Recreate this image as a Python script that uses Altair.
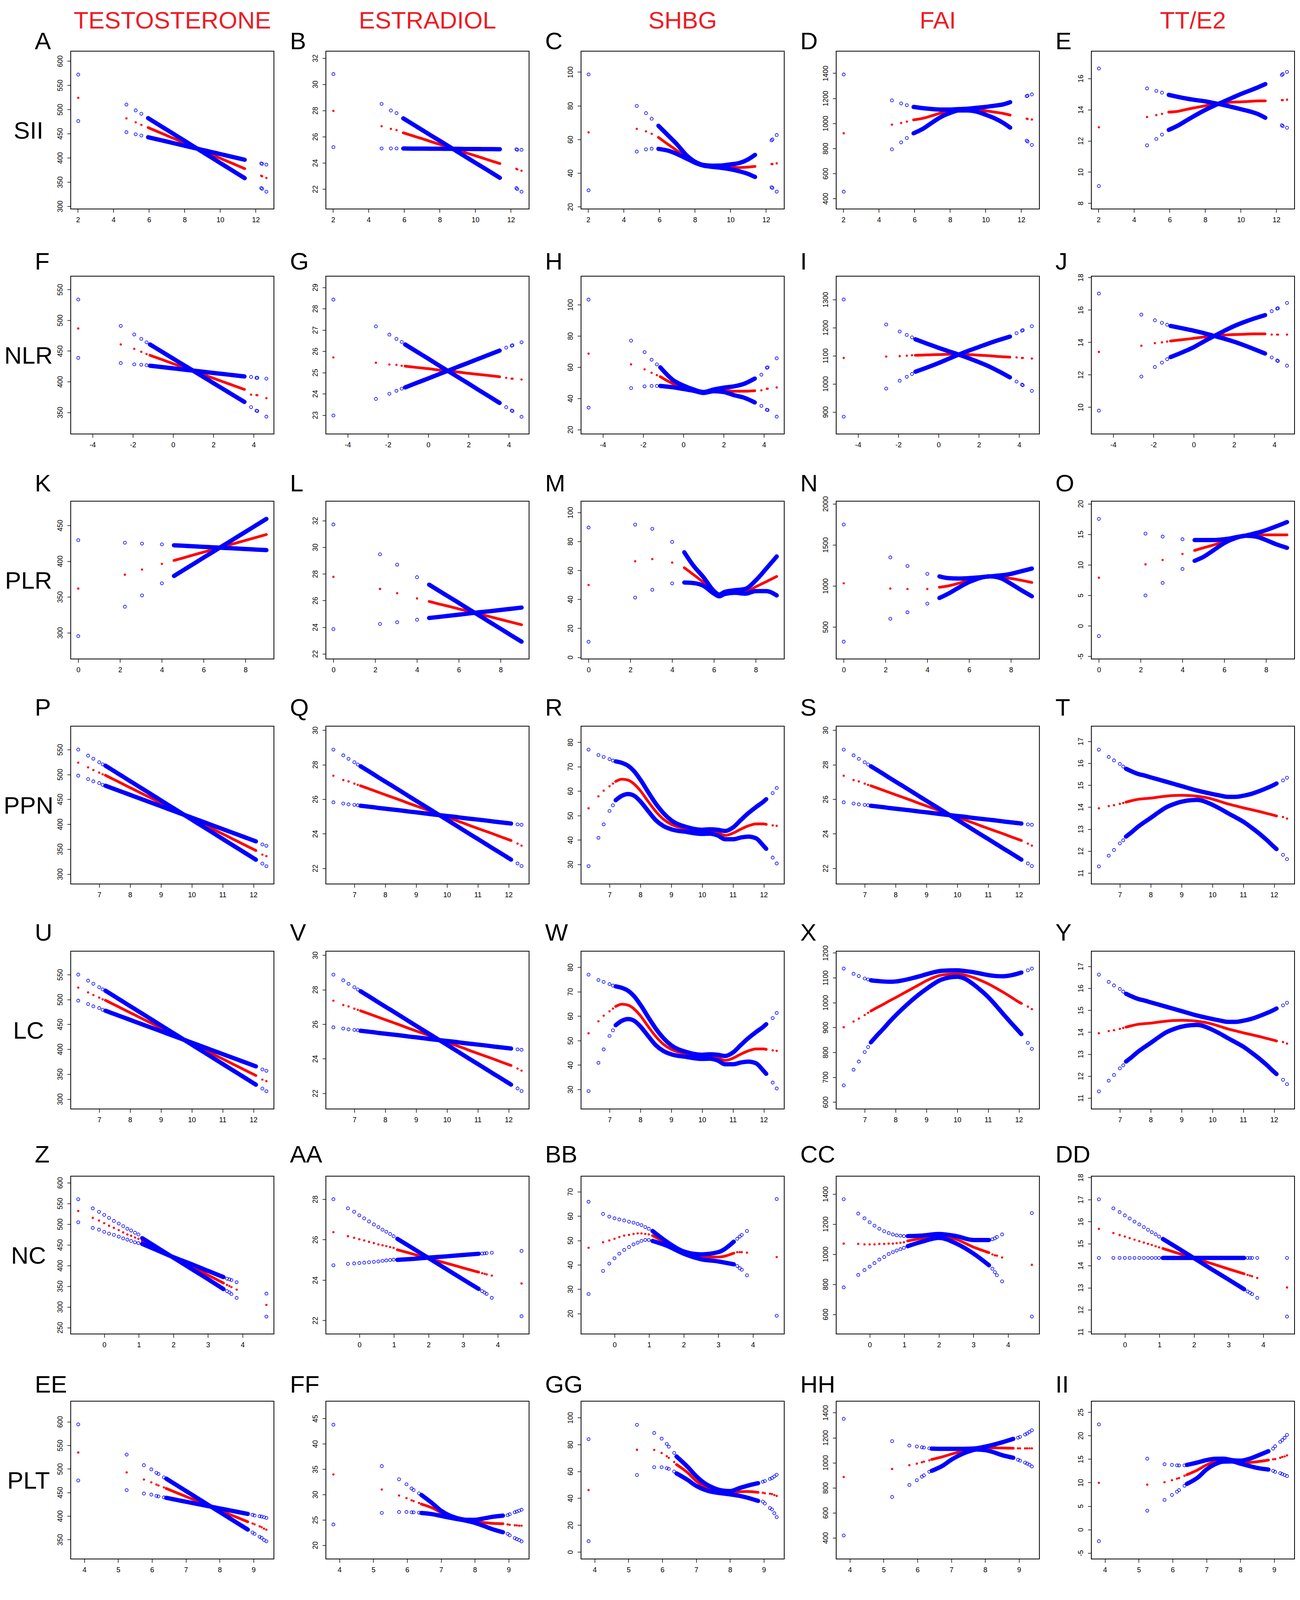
import altair as alt
import pandas as pd

FONT = "Liberation Sans"
BLUE = "#0000FF"
RED = "#FF0000"
TITLE_RED = "#EE1C25"

COLUMN_TITLES = ["TESTOSTERONE", "ESTRADIOL", "SHBG", "FAI", "TT/E2"]
ROW_LABELS = ["SII", "NLR", "PLR", "PPN", "LC", "NC", "PLT"]
PANEL_LETTERS = [
    ["A", "B", "C", "D", "E"],
    ["F", "G", "H", "I", "J"],
    ["K", "L", "M", "N", "O"],
    ["P", "Q", "R", "S", "T"],
    ["U", "V", "W", "X", "Y"],
    ["Z", "AA", "BB", "CC", "DD"],
    ["EE", "FF", "GG", "HH", "II"],
]

# ---------------- x positions per row (sparse-left, dense, sparse-right) -------------
SII_XL = [2.02, 4.73, 5.25, 5.57]
SII_XD = [5.95, 6.5, 7.0, 7.5, 8.0, 8.5, 9.0, 9.5, 10.0, 10.5, 11.0, 11.38]
SII_XR = [12.31, 12.36, 12.60]

NLR_XL = [-4.71, -2.60, -1.93, -1.58, -1.32]
NLR_XD = [-1.15, -0.5, 0.0, 0.5, 1.0, 1.5, 2.0, 2.5, 3.0, 3.54]
NLR_XR = [3.87, 4.14, 4.18, 4.63]

PLR_XL = [0.0, 2.23, 3.05, 4.0]
PLR_XD = [4.58, 5.0, 5.5, 6.0, 6.25, 6.5, 7.0, 7.5, 8.0, 8.5, 9.0]
PLR_XR = []

PPN_XL = [6.32, 6.64, 6.81, 7.0, 7.11]
PPN_XD = [7.2, 7.4, 7.6, 7.8, 8.0, 8.25, 8.5, 8.75, 9.0, 9.5, 10.0, 10.25, 10.5,
          10.75, 11.0, 11.25, 11.5, 11.75, 12.0, 12.08]
PPN_XR = [12.29, 12.42]

LC_XL = [6.32, 6.64, 6.81, 7.0, 7.11]
LC_XD = [7.2, 7.4, 7.6, 7.8, 8.0, 8.25, 8.5, 8.75, 9.0, 9.5, 10.0, 10.25, 10.5,
         10.75, 11.0, 11.25, 11.5, 11.75, 12.0, 12.08]
LC_XR = [12.29, 12.42]

NC_XL = [-0.75, -0.33, -0.15, 0.0, 0.14, 0.28, 0.42, 0.55, 0.67, 0.78, 0.89, 0.99]
NC_XD = [1.1, 1.5, 2.0, 2.5, 3.0, 3.45]
NC_XR = [3.55, 3.62, 3.68, 3.83, 4.69]

PLT_XL = [3.82, 5.25, 5.76, 5.98, 6.13, 6.19, 6.35]
PLT_XD = [6.42, 6.75, 7.0, 7.25, 7.5, 7.75, 8.0, 8.25, 8.5, 8.83]
PLT_XR = [8.97, 9.03, 9.18, 9.24, 9.31, 9.38]

ROW_X = [
    (SII_XL, SII_XD, SII_XR),
    (NLR_XL, NLR_XD, NLR_XR),
    (PLR_XL, PLR_XD, PLR_XR),
    (PPN_XL, PPN_XD, PPN_XR),
    (LC_XL, LC_XD, LC_XR),
    (NC_XL, NC_XD, NC_XR),
    (PLT_XL, PLT_XD, PLT_XR),
]

ROW_XTICKS = [
    [2, 4, 6, 8, 10, 12],
    [-4, -2, 0, 2, 4],
    [0, 2, 4, 6, 8],
    [7, 8, 9, 10, 11, 12],
    [7, 8, 9, 10, 11, 12],
    [0, 1, 2, 3, 4],
    [4, 5, 6, 7, 8, 9],
]

# ---------------- series: curve 1 (u), estimate (m), curve 2 (l) -------------
# Row SII
A_U = [572, 510, 498, 491, 482, 469.4, 458, 446.6, 435.2, 423.8, 412.4, 401, 389.5, 378.1, 366.7, 358, 388.5, 387.6, 386]
A_M = [524, 481.5, 473.5, 468, 462.5, 453.9, 446.1, 438.3, 430.5, 422.7, 414.9, 407.1, 399.2, 391.4, 383.6, 377.7, 363, 362, 358.4]
A_L = [476, 453, 448.6, 446, 442.6, 437.9, 433.6, 429.3, 425, 420.7, 416.4, 412.1, 407.9, 403.6, 399.3, 396, 337.5, 336, 330]

B_U = [30.78, 28.5, 28.0, 27.8, 27.4, 26.94, 26.52, 26.1, 25.69, 25.27, 24.85, 24.43, 24.01, 23.6, 23.18, 22.86, 25.04, 25.0, 25.0]
B_M = [27.97, 26.8, 26.6, 26.5, 26.3, 26.06, 25.85, 25.63, 25.41, 25.2, 24.98, 24.76, 24.55, 24.33, 24.11, 23.95, 23.55, 23.5, 23.4]
B_L = [25.2, 25.1, 25.1, 25.1, 25.1, 25.09, 25.09, 25.08, 25.08, 25.07, 25.07, 25.06, 25.06, 25.05, 25.05, 25.04, 22.07, 22.0, 21.8]

C_U = [98.6, 79.9, 75.6, 72.3, 68.1, 62.3, 57.0, 50.9, 46.8, 44.8, 44.4, 44.5, 45.2, 46.0, 48.2, 50.8, 59.4, 60.0, 62.6]
C_M = [64.2, 66.3, 64.8, 63.3, 61.2, 57.0, 53.3, 49.4, 46.0, 44.5, 44.0, 43.8, 43.5, 43.3, 43.6, 44.0, 45.4, 45.4, 45.8]
C_L = [29.8, 52.8, 54.1, 54.5, 54.4, 53.3, 51.3, 48.8, 46.2, 44.4, 43.7, 43.1, 42.3, 41.1, 39.5, 37.7, 31.6, 31.2, 29.0]

D_U = [1390, 1183, 1159, 1145, 1131, 1121, 1114, 1110, 1110, 1114, 1117, 1124, 1131, 1141, 1152, 1169, 1217, 1221, 1231]
D_M = [921, 990, 1003, 1014, 1028, 1041, 1062, 1083, 1097, 1107, 1110, 1107, 1100, 1090, 1079, 1066, 1038, 1035, 1031]
D_L = [455, 793, 848, 883, 921, 959, 1007, 1052, 1083, 1103, 1103, 1093, 1069, 1041, 1003, 966, 862, 855, 828]

E_U = [16.64, 15.36, 15.2, 15.09, 14.95, 14.81, 14.7, 14.61, 14.53, 14.42, 14.31, 14.17, 14.03, 13.89, 13.7, 13.48, 16.22, 16.28, 16.42]
E_M = [12.87, 13.53, 13.65, 13.73, 13.84, 13.9, 14.03, 14.14, 14.25, 14.34, 14.42, 14.48, 14.5, 14.53, 14.56, 14.56, 14.61, 14.61, 14.64]
E_L = [9.10, 11.71, 12.12, 12.4, 12.7, 13.0, 13.34, 13.67, 13.98, 14.25, 14.5, 14.75, 15.0, 15.22, 15.45, 15.64, 13.0, 12.95, 12.84]

# Row NLR
F_U = [533.8, 490.8, 476.8, 469.7, 464.1, 460.6, 447.6, 437.6, 427.6, 417.7, 407.7, 397.7, 387.7, 377.7, 367.0, 407.7, 406.3, 406.3, 404.9]
F_M = [486.6, 460.6, 453.5, 448.6, 445.0, 443.0, 435.3, 429.3, 423.4, 417.5, 411.5, 405.6, 399.6, 393.7, 387.3, 378.9, 378.2, 378.0, 373.2]
F_L = [438.7, 430.3, 428.2, 427.5, 426.8, 426.0, 423.6, 421.7, 419.8, 418.0, 416.1, 414.2, 412.4, 410.5, 408.5, 358.5, 352.8, 352.1, 343.0]

G_U = [28.43, 27.17, 26.78, 26.58, 26.44, 26.32, 25.94, 25.65, 25.35, 25.06, 24.77, 24.48, 24.18, 23.89, 23.57, 26.17, 26.26, 26.28, 26.42]
G_M = [25.71, 25.46, 25.38, 25.36, 25.32, 25.3, 25.23, 25.18, 25.12, 25.07, 25.02, 24.96, 24.91, 24.86, 24.8, 24.75, 24.71, 24.71, 24.67]
G_L = [22.98, 23.76, 24.0, 24.14, 24.24, 24.3, 24.54, 24.72, 24.91, 25.09, 25.28, 25.46, 25.65, 25.83, 26.03, 23.37, 23.21, 23.19, 22.92]

H_U = [103.3, 77.0, 69.6, 64.8, 61.8, 59.9, 51.6, 48.2, 45.7, 44.1, 45.7, 46.9, 47.7, 49.3, 52.7, 55.2, 59.6, 59.9, 65.7]
H_M = [68.7, 61.8, 58.6, 56.4, 54.9, 53.9, 49.3, 47.1, 45.2, 43.8, 45.2, 45.2, 44.6, 44.6, 44.9, 45.2, 46.2, 46.2, 47.0]
H_L = [34.1, 46.6, 47.7, 48.0, 48.0, 48.0, 47.1, 46.0, 44.9, 43.5, 44.6, 44.1, 42.1, 40.5, 37.4, 35.2, 32.7, 32.5, 28.3]

I_U = [1300, 1211, 1186, 1174, 1165, 1158.5, 1141, 1128, 1116, 1104, 1091, 1077, 1062, 1044, 1023, 1180, 1189, 1191, 1205]
I_M = [1092, 1097, 1098.5, 1100, 1101.5, 1101.5, 1103, 1104, 1105, 1105, 1104, 1102, 1100, 1097, 1095, 1094, 1092, 1092, 1090]
I_L = [883, 983, 1011, 1025, 1035, 1043, 1060, 1074, 1089, 1104, 1118, 1131, 1144, 1156, 1168, 1008, 997, 995, 975]

J_U = [17.01, 15.71, 15.36, 15.2, 15.09, 15.01, 14.85, 14.72, 14.57, 14.4, 14.23, 14.04, 13.82, 13.58, 13.31, 15.92, 16.08, 16.1, 16.43]
J_M = [13.41, 13.79, 13.95, 14.0, 14.05, 14.08, 14.17, 14.25, 14.33, 14.4, 14.45, 14.48, 14.5, 14.52, 14.52, 14.48, 14.48, 14.48, 14.48]
J_L = [9.79, 11.89, 12.48, 12.75, 12.96, 13.09, 13.42, 13.7, 14.05, 14.38, 14.7, 15.0, 15.25, 15.47, 15.68, 13.07, 12.88, 12.85, 12.56]

# Row PLR
K_U = [429.4, 425.8, 424.6, 423.4, 379.3, 386.9, 395.9, 405.0, 409.5, 414.0, 423.0, 432.0, 441.0, 450.1, 459.1]
K_M = [361.7, 381.1, 388.3, 396.2, 401.0, 404.4, 408.6, 412.7, 414.7, 416.8, 420.9, 425.0, 429.1, 433.2, 437.3]
K_L = [295.2, 336.3, 352.1, 369.0, 422.2, 421.6, 420.8, 420.0, 419.7, 419.3, 418.5, 417.8, 417.0, 416.2, 415.5]

L_U = [31.71, 29.47, 28.69, 27.75, 27.19, 26.78, 26.3, 25.82, 25.57, 25.33, 24.85, 24.36, 23.88, 23.39, 22.91]
L_M = [27.78, 26.87, 26.55, 26.16, 25.93, 25.76, 25.57, 25.37, 25.27, 25.17, 24.97, 24.78, 24.58, 24.38, 24.18]
L_L = [23.85, 24.24, 24.37, 24.56, 24.69, 24.76, 24.85, 24.94, 24.98, 25.03, 25.12, 25.2, 25.29, 25.38, 25.47]

M_U = [89.6, 91.6, 88.7, 79.7, 72.5, 63.6, 55.2, 45.7, 43.3, 45.1, 46.3, 47.2, 53.1, 61.2, 69.6]
M_M = [49.9, 66.3, 67.8, 65.4, 61.8, 57.3, 51.6, 45.1, 43.3, 44.5, 45.4, 45.1, 48.7, 52.2, 55.8]
M_L = [10.7, 41.2, 46.6, 51.0, 51.6, 51.3, 49.3, 43.9, 42.1, 43.6, 44.5, 43.9, 45.7, 45.7, 42.7]

N_U = [1747, 1347, 1242, 1147, 1116, 1095, 1090, 1095, 1100, 1105, 1116, 1128, 1147, 1179, 1211]
N_M = [1031.6, 968, 963, 963, 984, 1000, 1032, 1068, 1082, 1095, 1110, 1105, 1090, 1068, 1042]
N_L = [321, 600, 679, 784, 853, 905, 979, 1047, 1072, 1095, 1116, 1095, 1026, 947, 874]

O_U = [17.52, 15.11, 14.62, 14.19, 14.05, 14.05, 14.05, 14.19, 14.3, 14.48, 14.76, 15.18, 15.68, 16.32, 17.0]
O_M = [7.89, 10.08, 10.79, 11.78, 12.35, 12.78, 13.27, 13.84, 14.1, 14.33, 14.69, 14.9, 14.9, 14.9, 14.9]
O_L = [-1.67, 4.99, 7.04, 9.31, 10.65, 11.29, 12.42, 13.56, 14.0, 14.33, 14.76, 14.62, 14.05, 13.34, 12.78]

# Row PPN
P_U = [550, 537.8, 531.6, 524.6, 520.3, 517.7, 510.0, 502.2, 494.5, 486.7, 477.1, 467.4, 457.7, 448.0, 428.7,
       409.3, 399.6, 390.0, 380.3, 370.6, 360.9, 351.3, 341.6, 331.9, 328.8, 359.4, 356.8]
P_M = [523.8, 514.2, 508.9, 503.7, 500.2, 498.4, 492.2, 486.0, 479.8, 473.6, 465.9, 458.1, 450.4, 442.6, 427.1,
       411.7, 403.9, 396.2, 388.4, 380.7, 372.9, 365.2, 357.4, 349.7, 347.2, 339.0, 336.0]
P_L = [497.6, 490.6, 486.2, 482.7, 479.2, 477.4, 472.8, 468.2, 463.7, 459.1, 453.3, 447.6, 441.9, 436.2, 424.7,
       413.3, 407.5, 401.8, 396.1, 390.3, 384.6, 378.9, 373.2, 367.4, 365.6, 321.0, 315.7]

Q_U = [28.87, 28.54, 28.34, 28.14, 28.01, 27.91, 27.69, 27.47, 27.24, 27.02, 26.75, 26.47, 26.19, 25.91, 25.36,
       24.81, 24.53, 24.25, 23.97, 23.7, 23.42, 23.14, 22.87, 22.59, 22.5, 24.54, 24.52]
Q_M = [27.36, 27.11, 27.03, 26.9, 26.83, 26.78, 26.65, 26.52, 26.39, 26.26, 26.1, 25.94, 25.77, 25.61, 25.29,
       24.96, 24.8, 24.64, 24.47, 24.31, 24.15, 23.99, 23.82, 23.66, 23.61, 23.43, 23.31]
Q_L = [25.82, 25.75, 25.7, 25.67, 25.65, 25.62, 25.58, 25.54, 25.49, 25.45, 25.4, 25.35, 25.29, 25.24, 25.13,
       25.03, 24.98, 24.92, 24.87, 24.82, 24.77, 24.71, 24.66, 24.61, 24.59, 22.28, 22.13]

R_U = [77.0, 74.8, 74.0, 73.1, 72.5, 72.2, 71.6, 70.4, 68.1, 64.7, 59.7, 54.9, 51.0, 48.1, 45.3,
       44.2, 44.4, 44.2, 43.7, 45.1, 48.1, 51.0, 53.5, 55.8, 56.7, 59.2, 61.3]
R_M = [53.0, 57.9, 60.2, 62.0, 63.1, 64.0, 64.9, 64.5, 62.9, 60.2, 55.8, 51.7, 48.5, 46.4, 44.6,
       43.5, 43.7, 43.0, 41.9, 42.8, 44.4, 45.8, 46.6, 46.6, 46.4, 46.0, 45.8]
R_L = [29.3, 40.9, 46.4, 51.9, 54.2, 56.3, 58.1, 58.8, 58.1, 55.8, 51.9, 48.1, 45.7, 44.4, 43.3,
       42.5, 42.6, 41.9, 40.3, 40.3, 41.0, 41.4, 40.7, 37.5, 36.4, 32.8, 30.4]

S_U = [28.87, 28.54, 28.34, 28.14, 28.01, 27.91, 27.69, 27.47, 27.24, 27.02, 26.75, 26.47, 26.19, 25.91, 25.36,
       24.81, 24.53, 24.25, 23.97, 23.7, 23.42, 23.14, 22.87, 22.59, 22.5, 24.54, 24.52]
S_M = [27.36, 27.11, 27.03, 26.9, 26.83, 26.78, 26.65, 26.52, 26.39, 26.26, 26.1, 25.94, 25.77, 25.61, 25.29,
       24.96, 24.8, 24.64, 24.47, 24.31, 24.15, 23.99, 23.82, 23.66, 23.61, 23.43, 23.31]
S_L = [25.82, 25.75, 25.7, 25.67, 25.65, 25.62, 25.58, 25.54, 25.49, 25.45, 25.4, 25.35, 25.29, 25.24, 25.13,
       25.03, 24.98, 24.92, 24.87, 24.82, 24.77, 24.71, 24.66, 24.61, 24.59, 22.28, 22.13]

T_U = [16.62, 16.29, 16.13, 15.97, 15.85, 15.75, 15.62, 15.51, 15.44, 15.36, 15.26, 15.16, 15.06, 14.96, 14.76,
       14.6, 14.53, 14.47, 14.47, 14.52, 14.6, 14.72, 14.86, 15.02, 15.08, 15.22, 15.34]
T_M = [13.95, 14.05, 14.09, 14.15, 14.19, 14.23, 14.3, 14.36, 14.39, 14.41, 14.46, 14.5, 14.53, 14.54, 14.5,
       14.37, 14.26, 14.15, 14.06, 13.97, 13.89, 13.81, 13.72, 13.63, 13.6, 13.55, 13.48]
T_L = [11.3, 11.79, 12.05, 12.35, 12.49, 12.66, 12.88, 13.12, 13.32, 13.51, 13.76, 13.99, 14.14, 14.25, 14.33,
       14.11, 13.93, 13.73, 13.54, 13.34, 13.09, 12.82, 12.52, 12.19, 12.09, 11.83, 11.63]

# Row LC
U_U = [550, 537.8, 531.6, 524.6, 520.3, 517.7, 510.0, 502.2, 494.5, 486.7, 477.1, 467.4, 457.7, 448.0, 428.7,
       409.3, 399.6, 390.0, 380.3, 370.6, 360.9, 351.3, 341.6, 331.9, 328.8, 359.4, 356.8]
U_M = [523.8, 514.2, 508.9, 503.7, 500.2, 498.4, 492.2, 486.0, 479.8, 473.6, 465.9, 458.1, 450.4, 442.6, 427.1,
       411.7, 403.9, 396.2, 388.4, 380.7, 372.9, 365.2, 357.4, 349.7, 347.2, 339.0, 336.0]
U_L = [497.6, 490.6, 486.2, 482.7, 479.2, 477.4, 472.8, 468.2, 463.7, 459.1, 453.3, 447.6, 441.9, 436.2, 424.7,
       413.3, 407.5, 401.8, 396.1, 390.3, 384.6, 378.9, 373.2, 367.4, 365.6, 321.0, 315.7]

V_U = [28.87, 28.54, 28.34, 28.14, 28.01, 27.91, 27.69, 27.47, 27.24, 27.02, 26.75, 26.47, 26.19, 25.91, 25.36,
       24.81, 24.53, 24.25, 23.97, 23.7, 23.42, 23.14, 22.87, 22.59, 22.5, 24.54, 24.52]
V_M = [27.36, 27.11, 27.03, 26.9, 26.83, 26.78, 26.65, 26.52, 26.39, 26.26, 26.1, 25.94, 25.77, 25.61, 25.29,
       24.96, 24.8, 24.64, 24.47, 24.31, 24.15, 23.99, 23.82, 23.66, 23.61, 23.43, 23.31]
V_L = [25.82, 25.75, 25.7, 25.67, 25.65, 25.62, 25.58, 25.54, 25.49, 25.45, 25.4, 25.35, 25.29, 25.24, 25.13,
       25.03, 24.98, 24.92, 24.87, 24.82, 24.77, 24.71, 24.66, 24.61, 24.59, 22.28, 22.13]

W_U = [77.0, 74.8, 74.0, 73.1, 72.5, 72.2, 71.6, 70.4, 68.1, 64.7, 59.7, 54.9, 51.0, 48.1, 45.3,
       44.2, 44.4, 44.2, 43.7, 45.1, 48.1, 51.0, 53.5, 55.8, 56.7, 59.2, 61.3]
W_M = [53.0, 57.9, 60.2, 62.0, 63.1, 64.0, 64.9, 64.5, 62.9, 60.2, 55.8, 51.7, 48.5, 46.4, 44.6,
       43.5, 43.7, 43.0, 41.9, 42.8, 44.4, 45.8, 46.6, 46.6, 46.4, 46.0, 45.8]
W_L = [29.3, 40.9, 46.4, 51.9, 54.2, 56.3, 58.1, 58.8, 58.1, 55.8, 51.9, 48.1, 45.7, 44.4, 43.3,
       42.5, 42.6, 41.9, 40.3, 40.3, 41.0, 41.4, 40.7, 37.5, 36.4, 32.8, 30.4]

X_U = [1137, 1116, 1107, 1097, 1093, 1090, 1087, 1085, 1084, 1085, 1090, 1097, 1105, 1114, 1128,
       1130, 1127, 1123, 1117, 1111, 1107, 1106, 1110, 1118, 1121, 1130, 1137]
X_M = [901, 924, 936, 950, 959, 966, 980, 993, 1007, 1020, 1037, 1054, 1071, 1088, 1111,
       1116, 1111, 1102, 1090, 1076, 1059, 1041, 1022, 1002, 997, 984, 974]
X_L = [667, 730, 763, 801, 821, 840, 868, 894, 922, 948, 978, 1006, 1032, 1055, 1093,
       1104, 1096, 1076, 1051, 1023, 989, 953, 918, 884, 873, 838, 814]

Y_U = [16.62, 16.29, 16.13, 15.97, 15.85, 15.75, 15.62, 15.51, 15.44, 15.36, 15.26, 15.16, 15.06, 14.96, 14.76,
       14.6, 14.53, 14.47, 14.47, 14.52, 14.6, 14.72, 14.86, 15.02, 15.08, 15.22, 15.34]
Y_M = [13.95, 14.05, 14.09, 14.15, 14.19, 14.23, 14.3, 14.36, 14.39, 14.41, 14.46, 14.5, 14.53, 14.54, 14.5,
       14.37, 14.26, 14.15, 14.06, 13.97, 13.89, 13.81, 13.72, 13.63, 13.6, 13.55, 13.48]
Y_L = [11.3, 11.79, 12.05, 12.35, 12.49, 12.66, 12.88, 13.12, 13.32, 13.51, 13.76, 13.99, 14.14, 14.25, 14.33,
       14.11, 13.93, 13.73, 13.54, 13.34, 13.09, 12.82, 12.52, 12.19, 12.09, 11.83, 11.63]

# Row NC
Z_U = [560, 538, 529.6, 522.3, 515, 507.6, 501.3, 495, 488.7, 484.5, 479.2, 475,
       466, 445, 419, 393, 367, 343, 338, 335, 331, 321.6, 276.5]
Z_M = [531.7, 515, 508.6, 502.3, 496, 490.8, 485.5, 480, 475, 471.8, 467.6, 464.5,
       459, 441.5, 419.5, 398.5, 377, 357.5, 353, 350.5, 347.8, 341.6, 304.8]
Z_L = [504.4, 490.8, 486.6, 481.3, 477, 474, 469.7, 465.5, 462.4, 459.2, 456, 454,
       452, 438, 420, 404, 387, 372, 368, 366.5, 364.7, 359.5, 332]

AA_U = [28.0, 27.55, 27.38, 27.2, 27.05, 26.9, 26.75, 26.62, 26.49, 26.39, 26.28, 26.17,
        26.04, 25.62, 25.09, 24.56, 24.03, 23.56, 23.45, 23.38, 23.31, 23.12, 22.21]
AA_M = [26.37, 26.17, 26.09, 26.02, 25.96, 25.89, 25.83, 25.76, 25.72, 25.68, 25.63, 25.59,
        25.5, 25.31, 25.07, 24.84, 24.6, 24.39, 24.34, 24.31, 24.28, 24.22, 23.83]
AA_L = [24.73, 24.8, 24.82, 24.84, 24.86, 24.88, 24.9, 24.92, 24.95, 24.97, 24.99, 25.01,
        25.0, 25.04, 25.11, 25.17, 25.24, 25.3, 25.31, 25.32, 25.33, 25.35, 25.44]

BB_U = [65.9, 60.9, 59.8, 59.1, 58.6, 58.2, 57.7, 57.3, 56.8, 56.3, 55.5, 54.8,
        53.9, 49.6, 45.5, 44.3, 45.2, 49.5, 50.7, 51.6, 52.3, 53.9, 67.0]
BB_M = [47.0, 49.3, 50.0, 50.7, 51.4, 52.0, 52.3, 52.7, 52.9, 52.9, 52.7, 52.5,
        52.0, 48.9, 45.2, 43.2, 43.2, 44.8, 45.2, 45.2, 45.2, 45.0, 43.2]
BB_L = [28.0, 37.5, 40.5, 42.7, 44.6, 46.1, 47.3, 48.4, 49.1, 49.8, 50.2, 50.2,
        49.8, 47.9, 44.6, 42.3, 41.4, 40.2, 39.5, 38.6, 38.0, 35.7, 19.1]

CC_U = [1365, 1270, 1238, 1212, 1189, 1169, 1152, 1140, 1131, 1125, 1123, 1120,
        1120, 1123, 1134, 1120, 1094, 1094, 1099, 1105, 1114, 1131, 1273]
CC_M = [1070, 1068, 1065, 1065, 1065, 1068, 1068, 1070, 1070, 1073, 1076, 1079,
        1088, 1105, 1123, 1099, 1047, 1010, 998, 992, 990, 978, 929]
CC_L = [779, 862, 894, 917, 940, 964, 981, 1001, 1013, 1024, 1033, 1042,
        1053, 1082, 1108, 1071, 1004, 926, 903, 880, 860, 819, 585]

DD_U = [17.01, 16.6, 16.43, 16.28, 16.14, 16.0, 15.87, 15.75, 15.63, 15.52, 15.42, 15.32,
        15.21, 14.83, 14.34, 13.85, 13.37, 12.93, 12.83, 12.77, 12.71, 12.54, 11.69]
DD_M = [15.67, 15.48, 15.39, 15.32, 15.25, 15.18, 15.11, 15.05, 14.99, 14.94, 14.88, 14.83,
        14.78, 14.58, 14.34, 14.1, 13.85, 13.63, 13.58, 13.55, 13.52, 13.44, 13.01]
DD_L = [14.35, 14.35, 14.35, 14.35, 14.35, 14.35, 14.35, 14.35, 14.35, 14.35, 14.35, 14.35,
        14.35, 14.35, 14.35, 14.35, 14.35, 14.35, 14.35, 14.35, 14.35, 14.35, 14.35]

# Row PLT
EE_U = [594.2, 530.2, 507.8, 498.9, 491.7, 489.0, 482.0, 479.3, 464.5, 453.3, 442.1, 430.9, 419.7, 408.5, 397.3,
        386.1, 371.3, 402.6, 401.2, 399.6, 399.0, 397.6, 396.0]
EE_M = [534.7, 492.6, 477.4, 471.5, 466.8, 464.9, 460.7, 458.5, 448.8, 441.5, 434.2, 426.9, 419.5, 412.2, 404.9,
        397.6, 387.9, 384.3, 382.4, 378.2, 376.3, 373.3, 371.0]
EE_L = [475.4, 454.9, 447.7, 445.5, 442.7, 441.6, 439.7, 438.6, 433.9, 430.4, 426.9, 423.3, 419.8, 416.2, 412.7,
        409.2, 404.5, 365.2, 362.2, 356.1, 353.9, 349.2, 346.4]

FF_U = [43.79, 35.61, 33.0, 32.02, 31.2, 30.89, 30.22, 29.91, 28.23, 26.81, 25.86, 25.29, 25.0, 25.0, 25.26,
        25.57, 25.83, 25.91, 26.11, 26.48, 26.63, 26.81, 26.99]
FF_M = [33.96, 30.99, 29.8, 29.29, 28.85, 28.7, 28.33, 28.1, 27.33, 26.42, 25.7, 25.21, 24.88, 24.62, 24.49,
        24.31, 24.23, 24.1, 24.02, 23.92, 23.9, 23.84, 23.84]
FF_L = [24.08, 26.37, 26.55, 26.55, 26.48, 26.48, 26.42, 26.35, 26.11, 25.78, 25.44, 25.13, 24.82, 24.41, 23.84,
        23.2, 22.55, 22.24, 21.94, 21.39, 21.19, 21.0, 20.75]

GG_U = [84.0, 94.7, 88.6, 84.4, 80.5, 78.4, 73.8, 71.1, 63.3, 56.5, 51.2, 47.8, 45.8, 45.3, 47.3,
        49.2, 51.2, 52.3, 52.8, 54.4, 55.0, 56.2, 57.5]
GG_M = [46.1, 76.1, 76.0, 73.7, 71.3, 70.1, 67.0, 65.1, 59.0, 52.8, 48.7, 46.2, 44.8, 44.1, 44.8,
        45.0, 44.4, 44.1, 43.7, 43.4, 43.1, 42.4, 41.7]
GG_L = [8.0, 57.3, 63.1, 63.1, 62.4, 61.9, 59.9, 58.5, 53.6, 49.2, 46.3, 44.6, 43.7, 42.9, 41.9,
        40.5, 38.0, 37.5, 36.1, 32.7, 31.7, 28.8, 25.9]

HH_U = [1351, 1172.5, 1137, 1129.7, 1123.4, 1121.3, 1115, 1113, 1111, 1111, 1111, 1112, 1116, 1128.6, 1144.3,
        1163, 1191, 1200, 1207, 1225.7, 1233, 1246.6, 1259]
HH_M = [886.4, 950.1, 980.4, 992.9, 1003.4, 1008.6, 1019, 1026.3, 1048.2, 1069, 1086.9, 1102.5, 1110.9, 1117, 1119.2,
        1118.2, 1116, 1115, 1115, 1115, 1115, 1115, 1115]
HH_L = [418.8, 726.7, 822.8, 860.3, 888.5, 899, 928.2, 935.5, 977, 1024, 1060.8, 1089, 1105.7, 1100.4, 1083.7,
        1060.8, 1040, 1024, 1017, 1001, 993, 984.6, 970]

II_U = [22.39, 15.1, 13.9, 13.77, 13.68, 13.65, 13.68, 13.77, 14.32, 14.79, 15.07, 15.1, 14.79, 14.68, 15.02,
        15.71, 16.69, 17.24, 17.74, 18.69, 19.05, 19.55, 20.16]
II_M = [9.96, 9.57, 10.09, 10.51, 10.85, 10.98, 11.46, 11.68, 12.74, 13.77, 14.46, 14.74, 14.68, 14.4, 14.3,
        14.45, 14.8, 14.96, 15.02, 15.29, 15.46, 15.57, 15.8]
II_L = [-2.47, 4.03, 6.31, 7.37, 8.06, 8.4, 9.32, 9.73, 11.12, 12.79, 13.9, 14.46, 14.52, 14.04, 13.57,
        13.13, 12.79, 12.51, 12.29, 12.01, 11.82, 11.62, 11.4]

SERIES = {
    "A": (A_U, A_M, A_L), "B": (B_U, B_M, B_L), "C": (C_U, C_M, C_L), "D": (D_U, D_M, D_L), "E": (E_U, E_M, E_L),
    "F": (F_U, F_M, F_L), "G": (G_U, G_M, G_L), "H": (H_U, H_M, H_L), "I": (I_U, I_M, I_L), "J": (J_U, J_M, J_L),
    "K": (K_U, K_M, K_L), "L": (L_U, L_M, L_L), "M": (M_U, M_M, M_L), "N": (N_U, N_M, N_L), "O": (O_U, O_M, O_L),
    "P": (P_U, P_M, P_L), "Q": (Q_U, Q_M, Q_L), "R": (R_U, R_M, R_L), "S": (S_U, S_M, S_L), "T": (T_U, T_M, T_L),
    "U": (U_U, U_M, U_L), "V": (V_U, V_M, V_L), "W": (W_U, W_M, W_L), "X": (X_U, X_M, X_L), "Y": (Y_U, Y_M, Y_L),
    "Z": (Z_U, Z_M, Z_L), "AA": (AA_U, AA_M, AA_L), "BB": (BB_U, BB_M, BB_L), "CC": (CC_U, CC_M, CC_L),
    "DD": (DD_U, DD_M, DD_L),
    "EE": (EE_U, EE_M, EE_L), "FF": (FF_U, FF_M, FF_L), "GG": (GG_U, GG_M, GG_L), "HH": (HH_U, HH_M, HH_L),
    "II": (II_U, II_M, II_L),
}

# y-axis extents (bottom, top of the frame) and tick labels
Y_DOMAIN = {
    "A": [294.3, 620.4], "B": [20.48, 32.53], "C": [18.7, 112.4], "D": [317, 1576], "E": [7.63, 17.75],
    "F": [314.8, 571.8], "G": [22.11, 29.53], "H": [17.2, 118.3], "I": [821.5, 1383], "J": [8.35, 18.08],
    "K": [263.2, 483.9], "L": [21.61, 33.46], "M": [-1.2, 107.8], "N": [110.5, 2031.6], "O": [-5.42, 20.42],
    "P": [280, 597], "Q": [21.09, 30.23], "R": [22, 86.6], "S": [21.09, 30.23], "T": [10.5, 17.69],
    "U": [280, 597], "V": [21.09, 30.23], "W": [22, 86.6], "X": [572, 1207], "Y": [10.5, 17.69],
    "Z": [234.5, 615.8], "AA": [21.33, 29.14], "BB": [11.6, 76.4], "CC": [469, 1518.5], "DD": [10.9, 18.06],
    "EE": [309, 643.5], "FF": [17.27, 48.43], "GG": [-5.25, 112.3], "HH": [231, 1491.9], "II": [-6.26, 27.34],
}
Y_TICKS = {
    "A": [300, 350, 400, 450, 500, 550, 600], "B": [22, 24, 26, 28, 30, 32], "C": [20, 40, 60, 80, 100],
    "D": [400, 600, 800, 1000, 1200, 1400], "E": [8, 10, 12, 14, 16],
    "F": [350, 400, 450, 500, 550], "G": [23, 24, 25, 26, 27, 28, 29], "H": [20, 40, 60, 80, 100],
    "I": [900, 1000, 1100, 1200, 1300], "J": [10, 12, 14, 16, 18],
    "K": [300, 350, 400, 450], "L": [22, 24, 26, 28, 30, 32], "M": [0, 20, 40, 60, 80, 100],
    "N": [500, 1000, 1500, 2000], "O": [-5, 0, 5, 10, 15, 20],
    "P": [300, 350, 400, 450, 500, 550], "Q": [22, 24, 26, 28, 30], "R": [30, 40, 50, 60, 70, 80],
    "S": [22, 24, 26, 28, 30], "T": [11, 12, 13, 14, 15, 16, 17],
    "U": [300, 350, 400, 450, 500, 550], "V": [22, 24, 26, 28, 30], "W": [30, 40, 50, 60, 70, 80],
    "X": [600, 700, 800, 900, 1000, 1100, 1200], "Y": [11, 12, 13, 14, 15, 16, 17],
    "Z": [250, 300, 350, 400, 450, 500, 550, 600], "AA": [22, 24, 26, 28], "BB": [20, 30, 40, 50, 60, 70],
    "CC": [600, 800, 1000, 1200, 1400], "DD": [11, 12, 13, 14, 15, 16, 17, 18],
    "EE": [350, 400, 450, 500, 550, 600], "FF": [20, 25, 30, 35, 40, 45], "GG": [0, 20, 40, 60, 80, 100],
    "HH": [400, 600, 800, 1000, 1200, 1400], "II": [-5, 0, 5, 10, 15, 20, 25],
}

# gap between panel letter baseline and the top of its frame, per row
LETTER_GAP = [5, 17, 25, 27, 27, 35, 22]

PANEL_W = 520
PANEL_H = 404
BIG_FONT = 62
LABEL_EXPR = "'' + datum.value"


def text_label(text, x, y, align, color):
    return alt.Chart(pd.DataFrame({"t": [text]})).mark_text(
        text=text, align=align, baseline="alphabetic", font=FONT, fontSize=BIG_FONT, color=color
    ).encode(x=alt.value(x), y=alt.value(y))


def make_panel(ri, ci):
    letter = PANEL_LETTERS[ri][ci]
    xl, xd, xr = ROW_X[ri]
    xs = list(xl) + list(xd) + list(xr)
    kinds = ["s"] * len(xl) + ["d"] * len(xd) + ["s"] * len(xr)
    u, m, l = SERIES[letter]
    df = pd.DataFrame({"x": xs, "u": u, "m": m, "l": l, "k": kinds})
    span = max(xs) - min(xs)
    xdom = [min(xs) - 0.04 * span, max(xs) + 0.04 * span]
    xenc = alt.X("x:Q", scale=alt.Scale(domain=xdom, nice=False, zero=False),
                 axis=alt.Axis(values=ROW_XTICKS[ri], labelExpr=LABEL_EXPR), title=None)
    ysc = alt.Scale(domain=Y_DOMAIN[letter], nice=False, zero=False)
    yax = alt.Axis(values=Y_TICKS[letter], labelExpr=LABEL_EXPR)

    def yenc(f):
        return alt.Y(f + ":Q", scale=ysc, axis=yax, title=None)

    base = alt.Chart(df)
    dense = base.transform_filter("datum.k == 'd'")
    sparse = base.transform_filter("datum.k == 's'")
    layers = [
        dense.mark_line(color=RED, strokeWidth=7, strokeCap="round", interpolate="monotone")
        .encode(x=xenc, y=yenc("m")),
        sparse.mark_circle(color=RED, size=32, opacity=1).encode(x=xenc, y=yenc("m")),
    ]
    for f in ("u", "l"):
        layers.append(
            dense.mark_line(color=BLUE, strokeWidth=11, strokeCap="round", interpolate="monotone")
            .encode(x=xenc, y=yenc(f))
        )
        layers.append(
            sparse.mark_point(shape="circle", filled=False, color=BLUE, size=58, strokeWidth=1.6, opacity=1)
            .encode(x=xenc, y=yenc(f))
        )
    layers.append(text_label(letter, -92, -LETTER_GAP[ri], "left", "black"))
    if ri == 0:
        layers.append(text_label(COLUMN_TITLES[ci], PANEL_W / 2, -58, "center", TITLE_RED))
    if ci == 0:
        layers.append(text_label(ROW_LABELS[ri], -108, PANEL_H / 2 + 22, "center", "black"))
    return alt.layer(*layers).properties(width=PANEL_W, height=PANEL_H)


panels = [make_panel(ri, ci) for ri in range(7) for ci in range(5)]

chart = (
    alt.concat(*panels, columns=5, spacing={"row": 172, "column": 133}, bounds="flush")
    .properties(padding={"left": 0, "top": 14, "right": 0, "bottom": 0}, background="white")
    .configure_view(stroke="black", strokeWidth=2)
    .configure_axis(
        domain=False, grid=False, ticks=True, tickSize=9, tickWidth=1.5, tickColor="black",
        labelFont=FONT, labelFontSize=18, labelColor="black", labelOverlap=False, labelFlush=False,
    )
    .configure_axisX(labelPadding=10)
    .configure_axisY(labelAngle=270, labelAlign="center", labelBaseline="alphabetic", labelPadding=13)
)

chart.save("out.html", embed_options={"renderer": "svg", "actions": False})
